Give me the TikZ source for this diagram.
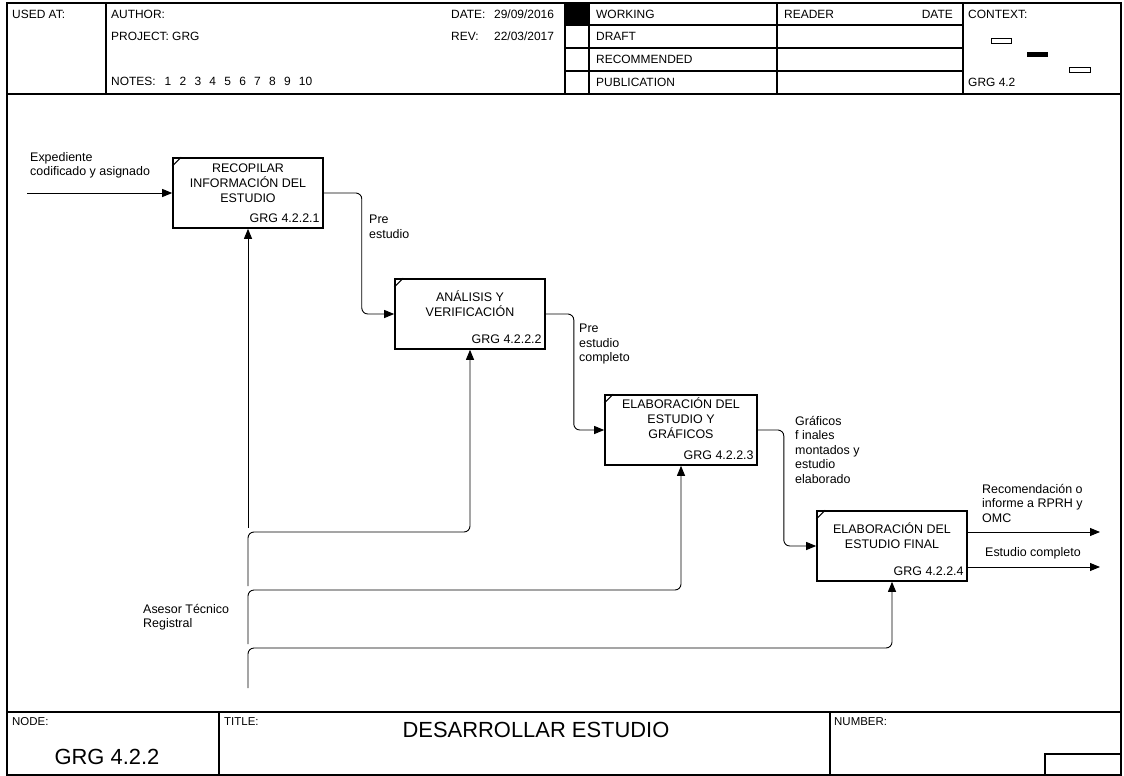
\documentclass[tikz,border=0pt]{standalone}
\usepackage{fontspec}
\setmainfont{Liberation Sans}
\usetikzlibrary{arrows.meta,calc,positioning}
\tikzset{
	process box/.style={draw=black, line width=1.6pt, minimum width=150bp, minimum height=70bp, inner sep=0pt},
	box title/.style={align=center, inner sep=0pt, font=\fontsize{12.5}{15}\selectfont},
	box code/.style={inner sep=0pt, anchor=south east, font=\fontsize{12.5}{15}\selectfont},
	flow line/.style={line width=0.9pt, rounded corners=6bp, -{Triangle[length=10bp,width=8bp]}},
	frame line/.style={line width=1.1pt},
	label text/.style={align=left, inner sep=0pt, anchor=north west, font=\fontsize{12.5}{14.5}\selectfont},
	form text/.style={inner sep=0pt, anchor=west, font=\fontsize{12}{14}\selectfont},
	foot text/.style={inner sep=0pt, anchor=west, font=\fontsize{11.5}{13}\selectfont},
	big text/.style={inner sep=0pt, font=\fontsize{22}{26}\selectfont},
}

\begin{document}
\begin{tikzpicture}[x=1bp, y=-1bp]
	\useasboundingbox (0,0) rectangle (1124,776);
	\draw[frame line] (7,3) rectangle (1121,775);
	\draw[frame line] (7,94) -- (1121,94);
	\foreach \x in {106,565,589,777,963}
		\draw[frame line] (\x,3) -- (\x,94);
	\foreach \y in {25,48,71}
		\draw[frame line] (565,\y) -- (963,\y);
	\fill (565,3) rectangle (589,25);
	\draw[line width=0.8pt] (991,38) rectangle (1011,43);
	\fill (1027,52) rectangle (1048,57);
	\draw[line width=0.8pt] (1069,67) rectangle (1090,72);
	\draw[frame line] (7,712) -- (1121,712);
	\foreach \x in {219,830}
		\draw[frame line] (\x,712) -- (\x,775);
	\draw[frame line] (1045,775) |- (1121,754);

	\node[form text] (usedat) at (12,14) {USED AT:};
	\node[form text] (author) at (111,14) {AUTHOR:};
	\node[form text] (project) at (111,36) {PROJECT:};
	\node[form text] (projname) at (172,36) {GRG};
	\node[form text] (notes) at (111,81) {NOTES:\hspace{9pt}1\hspace{8.3pt}2\hspace{8.3pt}3\hspace{8.3pt}4\hspace{8.3pt}5\hspace{8.3pt}6\hspace{8.3pt}7\hspace{8.3pt}8\hspace{8.3pt}9\hspace{8.3pt}10};
	\node[form text] (date) at (451,14) {DATE:};
	\node[form text] (dateval) at (494,14) {29/09/2016};
	\node[form text] (rev) at (451,36) {REV:};
	\node[form text] (revval) at (494,36) {22/03/2017};
	\node[form text] (working) at (596,14) {WORKING};
	\node[form text] (draft) at (596,36) {DRAFT};
	\node[form text] (recommended) at (596,59) {RECOMMENDED};
	\node[form text] (publication) at (596,82) {PUBLICATION};
	\node[form text] (reader) at (784,14) {READER};
	\node[form text, anchor=east] (readdate) at (953,14) {DATE};
	\node[form text] (context) at (968,14) {CONTEXT:};
	\node[form text] (contextnode) at (968,82) {GRG 4.2};

	\node[foot text] (nodelbl) at (12,722) {NODE:};
	\node[foot text] (titlelbl) at (224,722) {TITLE:};
	\node[foot text] (numberlbl) at (834,722) {NUMBER:};
	\node[big text] (nodenum) at (107,757) {GRG 4.2.2};
	\node[big text] (title) at (536,730) {DESARROLLAR ESTUDIO};

	\node[process box] (p1) at (248,193) {};
	\node[process box] (p2) at (470,314) {};
	\node[process box, minimum width=152bp] (p3) at (681,430) {};
	\node[process box] (p4) at (892,546) {};
	\foreach \p in {p1,p2,p3,p4}
		\draw[line width=1pt] (\p.north west) ++(0,9) -- ++(9,-9);
	\node[box title] (t1) at ($(p1)+(0,-10)$) {RECOPILAR\\INFORMACIÓN DEL\\ESTUDIO};
	\node[box title] (t2) at ($(p2)+(0,-10)$) {ANÁLISIS Y\\VERIFICACIÓN};
	\node[box title] (t3) at ($(p3)+(0,-12)$) {ELABORACIÓN DEL\\ESTUDIO Y\\GRÁFICOS};
	\node[box title] (t4) at ($(p4)+(0,-10)$) {ELABORACIÓN DEL\\ESTUDIO FINAL};
	\node[box code] (c1) at ($(p1.south east)+(-4,-6)$) {GRG 4.2.2.1};
	\node[box code] (c2) at ($(p2.south east)+(-4,-6)$) {GRG 4.2.2.2};
	\node[box code] (c3) at ($(p3.south east)+(-4,-6)$) {GRG 4.2.2.3};
	\node[box code] (c4) at ($(p4.south east)+(-4,-6)$) {GRG 4.2.2.4};

	\coordinate (in) at (27,193);
	\coordinate (out1) at (1100,532);
	\coordinate (out2) at (1100,567);
	\coordinate (mech) at (248,688);
	\draw[flow line] (in) -- (p1.west);
	\draw[flow line] (p1.east) -- ++(38,0) |- (p2.west);
	\draw[flow line] (p2.east) -- ++(28,0) |- (p3.west);
	\draw[flow line] (p3.east) -- ++(26,0) |- (p4.west);
	\draw[flow line] ($(p4.east)+(0,-14)$) -- (out1);
	\draw[flow line] ($(p4.east)+(0,21)$) -- (out2);
	\draw[flow line] (mech) -- (248,648) -| (p4.south);
	\draw[flow line] (248,644) -- (248,590) -| (p3.south);
	\draw[flow line] (248,586) -- (248,532) -| (p2.south);
	\draw[flow line] (248,528) -- (p1.south);

	\node[label text] (lin) at (30,152) {Expediente\\codificado y asignado};
	\node[label text] (l12) at (369,215) {Pre\\estudio};
	\node[label text] (l23) at (579,324) {Pre\\estudio\\completo};
	\node[label text] (l34) at (795,416) {Gráficos\\f inales\\montados y\\estudio\\elaborado};
	\node[label text] (lout1) at (982,484) {Recomendación o\\informe a RPRH y\\OMC};
	\node[label text] (lout2) at (985,547) {Estudio completo};
	\node[label text] (lmech) at (143,604) {Asesor Técnico\\Registral};
\end{tikzpicture}
\end{document}
